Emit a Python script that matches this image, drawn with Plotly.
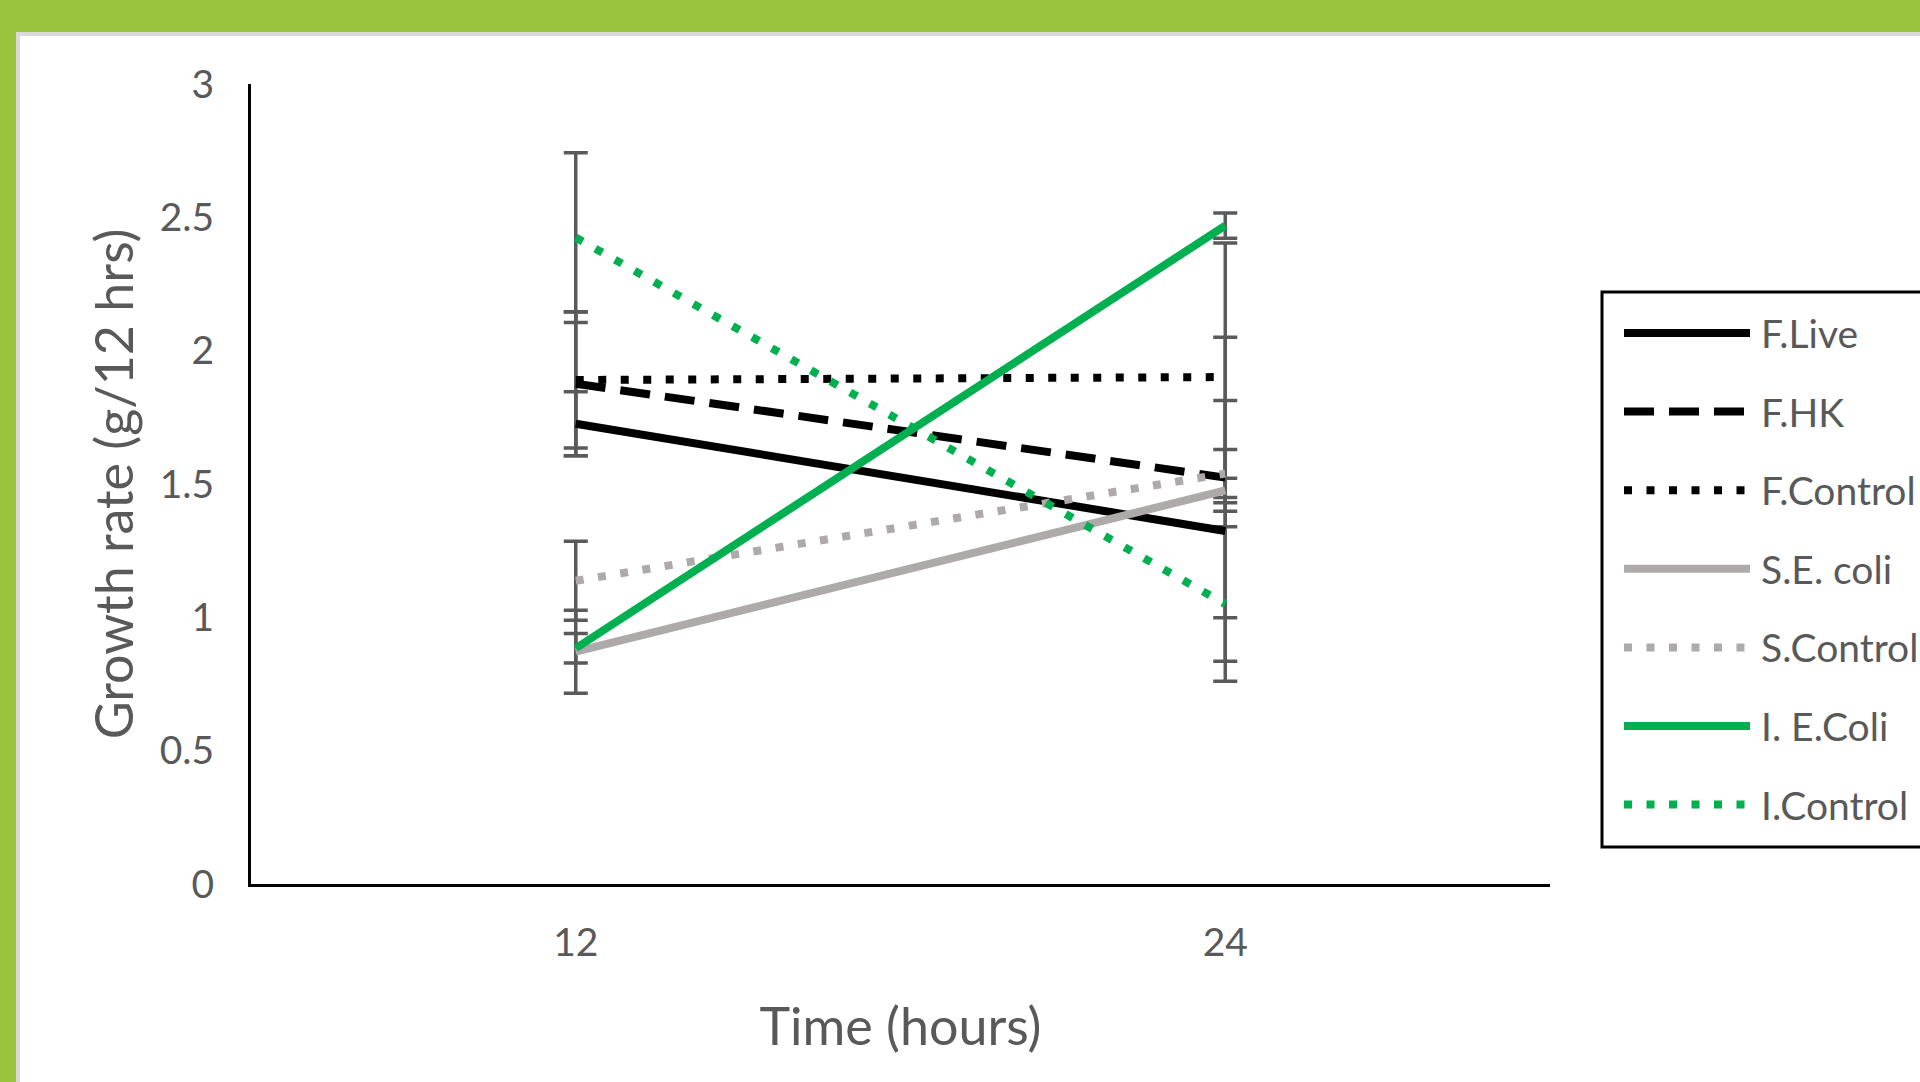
import plotly.graph_objects as go

# ---------------- data ----------------
times = ["12", "24"]
series_names = ["F.Live", "F.HK", "F.Control", "S.E. coli", "S.Control", "I. E.Coli", "I.Control"]
f_live = [1.726, 1.324]
f_live_err = [0.12, 0.489]
f_hk = [1.876, 1.524]
f_hk_err = [0.27, 0.526]
f_control = [1.890, 1.901]
f_control_err = [0.255, 0.503]
s_ecoli = [0.871, 1.476]
s_ecoli_err = [0.156, 0.046]
s_control = [1.137, 1.539]
s_control_err = [0.148, 0.09]
i_ecoli = [0.884, 2.469]
i_ecoli_err = [0.055, 0.047]
i_control = [2.424, 1.05]
i_control_err = [0.318, 0.29]
y_ticks = [0, 0.5, 1, 1.5, 2, 2.5, 3]
y_tick_labels = ["0", "0.5", "1", "1.5", "2", "2.5", "3"]

values = [f_live, f_hk, f_control, s_ecoli, s_control, i_ecoli, i_control]
errors = [f_live_err, f_hk_err, f_control_err, s_ecoli_err, s_control_err, i_ecoli_err, i_control_err]

# ---------------- style ----------------
BLACK = "#000000"
GREY = "#AEAAAA"
GREEN = "#00B050"
LW = 8
DOT = "8px,14.5px"
DASH = "30px,15px"
styles = [
    (BLACK, "solid"),
    (BLACK, DASH),
    (BLACK, DOT),
    (GREY, "solid"),
    (GREY, DOT),
    (GREEN, "solid"),
    (GREEN, DOT),
]
TXT = "#595959"
FONT = "Lato"

W, H = 1920, 1082
L, R, T, B = 251, 1550, 84, 884


def px(x):
    return (x - L) / (R - L)


def py(y):
    return (B - y) / (B - T)


fig = go.Figure()

# error bars first (drawn beneath all lines)
for name, v, e in zip(series_names, values, errors):
    fig.add_trace(go.Scatter(
        x=times, y=v, mode="markers",
        marker=dict(size=1, color="rgba(0,0,0,0)"),
        error_y=dict(type="data", array=e, visible=True, color="#5A5A5A",
                     thickness=3.5, width=12),
        showlegend=False, hoverinfo="skip",
    ))

for name, v, (c, d) in zip(series_names, values, styles):
    fig.add_trace(go.Scatter(
        x=times, y=v, mode="lines", name=name,
        line=dict(color=c, width=LW, dash=d),
        showlegend=False,
    ))

shapes = []
annotations = []
# frame decoration: green band top & left, thin grey inner edge
shapes.append(dict(type="rect", xref="paper", yref="paper", x0=px(0), x1=px(W), y0=py(36), y1=py(32),
                   fillcolor="#D9D9D9", line=dict(width=0), layer="below"))
shapes.append(dict(type="rect", xref="paper", yref="paper", x0=px(16), x1=px(20), y0=py(H), y1=py(32),
                   fillcolor="#D9D9D9", line=dict(width=0), layer="below"))
shapes.append(dict(type="rect", xref="paper", yref="paper", x0=px(0), x1=px(W), y0=py(32), y1=py(0),
                   fillcolor="#9BC43E", line=dict(width=0), layer="below"))
shapes.append(dict(type="rect", xref="paper", yref="paper", x0=px(0), x1=px(16), y0=py(H), y1=py(0),
                   fillcolor="#9BC43E", line=dict(width=0), layer="below"))

# legend box (extends beyond right edge, like the reference)
shapes.append(dict(type="rect", xref="paper", yref="paper", x0=px(1602), x1=px(1960), y0=py(847), y1=py(292),
                   line=dict(color=BLACK, width=3), fillcolor="rgba(0,0,0,0)"))
row0, drow = 333, 78.6
for i, (name, (c, d)) in enumerate(zip(series_names, styles)):
    yy = py(row0 + i * drow)
    shapes.append(dict(type="line", xref="paper", yref="paper", x0=px(1624), x1=px(1750), y0=yy, y1=yy,
                       line=dict(color=c, width=LW, dash=d)))
    annotations.append(dict(xref="paper", yref="paper", x=px(1759), y=yy, text=name, showarrow=False,
                            xanchor="left", yanchor="middle", font=dict(family=FONT, size=39, color=TXT)))

fig.update_layout(
    width=W, height=H,
    margin=dict(l=L, r=W - R, t=T, b=H - B, pad=0),
    paper_bgcolor="white", plot_bgcolor="rgba(0,0,0,0)",
    font=dict(family=FONT, color=TXT),
    shapes=shapes, annotations=annotations,
    showlegend=False,
)
fig.update_xaxes(
    type="category", categoryorder="array", categoryarray=times, range=[-0.5, 1.5],
    showline=True, linecolor=BLACK, linewidth=3, showgrid=False, zeroline=False,
    ticks="outside", ticklen=22, tickcolor="rgba(0,0,0,0)",
    tickfont=dict(family=FONT, size=39, color=TXT),
    title=dict(text="Time (hours)", font=dict(family=FONT, size=52, color=TXT), standoff=46),
)
fig.update_yaxes(
    range=[0, 3], tickvals=y_ticks, ticktext=y_tick_labels,
    showline=True, linecolor=BLACK, linewidth=3, showgrid=False, zeroline=False,
    ticks="outside", ticklen=26, tickcolor="rgba(0,0,0,0)",
    tickfont=dict(family=FONT, size=39, color=TXT),
    title=dict(text="Growth rate (g/12 hrs)", font=dict(family=FONT, size=52, color=TXT), standoff=10),
)

fig.write_html(
    "out.html",
    config={"displayModeBar": False},
    post_script="document.body.style.margin='0';document.body.style.overflow='hidden';",
)
